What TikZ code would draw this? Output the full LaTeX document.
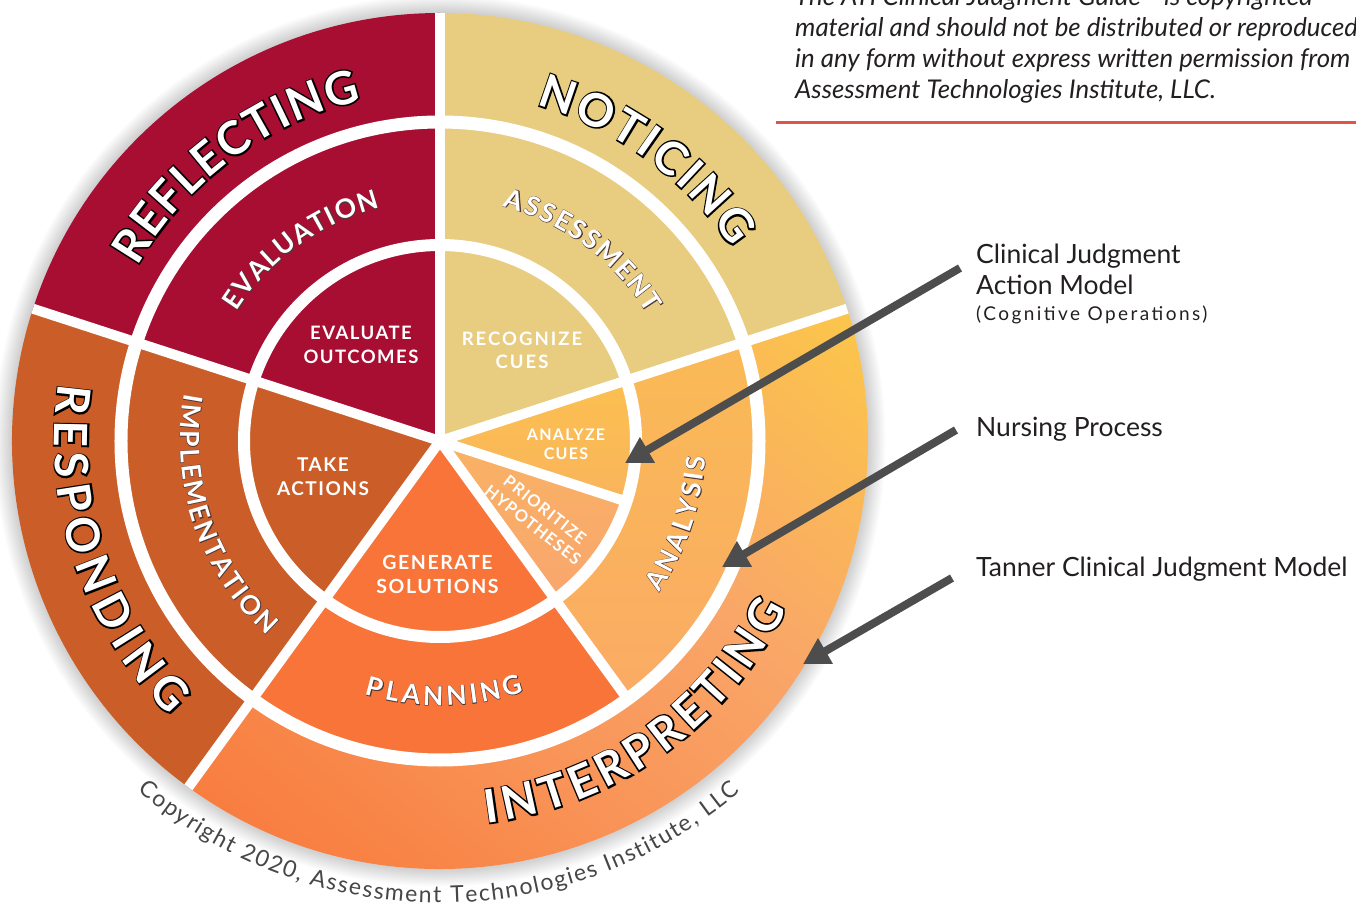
\documentclass[tikz,border=0pt]{standalone}
\usepackage{fontspec}
\setmainfont{Lato}
\usetikzlibrary{decorations.text,arrows.meta}

\definecolor{cCrim}{RGB}{168,13,50}
\definecolor{cRust}{RGB}{202,93,40}
\definecolor{cTan}{RGB}{232,204,128}
\definecolor{cOrange}{RGB}{248,116,56}
\definecolor{cYel}{RGB}{251,196,76}
\definecolor{cSal}{RGB}{249,166,104}
\definecolor{cMid}{RGB}{249,148,88}
\definecolor{cOrL}{RGB}{248,132,70}
\definecolor{cOrB}{RGB}{248,119,57}
\definecolor{cAnTop}{RGB}{251,193,78}
\definecolor{cAnBot}{RGB}{249,164,108}
\definecolor{cAzTop}{RGB}{251,192,80}
\definecolor{cAzBot}{RGB}{250,180,92}
\definecolor{cPrTop}{RGB}{249,178,100}
\definecolor{cPrBot}{RGB}{249,166,110}
\definecolor{cArrow}{RGB}{77,77,77}
\definecolor{cRed}{RGB}{226,84,74}
\definecolor{cText}{RGB}{35,31,32}
\definecolor{cCopy}{RGB}{70,70,70}
\definecolor{cMidLine}{RGB}{80,55,55}

\pgfdeclareverticalshading{interpshade}{100bp}{color(0bp)=(cOrB); color(20bp)=(cOrB); color(30bp)=(cOrL); color(40bp)=(cMid); color(53bp)=(cSal); color(70bp)=(cYel); color(100bp)=(cYel)}
\pgfdeclareverticalshading{analshade}{100bp}{color(0bp)=(cAnBot); color(100bp)=(cAnTop)}

% fonts for the curved labels: white face and the emboldened outline copy behind it
\newcommand\fOuter{\fontsize{46}{46}\selectfont\bfseries}
\newcommand\fOuterK{\fontsize{46}{46}\selectfont\bfseries\addfontfeatures{FakeBold=6.5}}
\newcommand\fMid{\fontsize{26.5}{26.5}\selectfont\bfseries}
\newcommand\fMidK{\fontsize{26.5}{26.5}\selectfont\bfseries\addfontfeatures{FakeBold=3}}
\newcommand\fCopy{\fontsize{23}{23}\selectfont}

% #1 face font, #2 outline font, #3 outline colour, #4 radius, #5 start, #6 end, #7 text
\newcommand\arclabel[7]{%
  \path[postaction={decorate},
    decoration={text along path, text={|#2|#7}, text color=#3, text align={fit to path}}]
    (#5:#4) arc[start angle=#5, end angle=#6, radius=#4];
  \path[postaction={decorate},
    decoration={text along path, text={|#1|#7}, text color=white, text align={fit to path}}]
    (#5:#4) arc[start angle=#5, end angle=#6, radius=#4];
}

\tikzset{
  gap/.style={draw=white, line width=10pt},
  ringgap/.style={draw=white, line width=#1},
  inlbl/.style={text=white, align=center, inner sep=0pt},
  rlbl/.style={text=cText, inner sep=0pt, anchor=base west, font=\fontsize{26.5}{30}\selectfont},
  note/.style={text=cText, inner sep=0pt, anchor=base west, font=\fontsize{25.8}{31}\selectfont\itshape},
  pointer/.style={draw=cArrow, line width=8pt, -{Triangle[length=26pt,width=28pt]}}
}

\begin{document}
\begin{tikzpicture}[x=1pt,y=1pt]
\useasboundingbox (-440,-468) rectangle (916,441);
\clip (-440,-468) rectangle (916,441);

% soft shadow
\foreach \k in {1,...,16}{\fill[black,opacity=0.01] (0,0) circle[radius={428+\k*1.1}];}

% outer ring (Tanner)
\fill[cTan] (0,0) -- (18:428) arc[start angle=18,end angle=90,radius=428] -- cycle;
\fill[cCrim] (0,0) -- (90:428) arc[start angle=90,end angle=162,radius=428] -- cycle;
\fill[cRust] (0,0) -- (162:428) arc[start angle=162,end angle=234,radius=428] -- cycle;
\begin{scope}
  \clip (0,0) -- (234:428) arc[start angle=234,end angle=378,radius=428] -- cycle;
  \shade[shading=interpshade, shading angle=-40] (-430,-430) rectangle (430,430);
\end{scope}

% middle ring (nursing process)
\fill[cOrange] (0,0) -- (234:319) arc[start angle=234,end angle=306,radius=319] -- cycle;
\shade[shading=analshade] (0,0) -- (306:319) arc[start angle=306,end angle=378,radius=319] -- cycle;

% inner ring (cognitive operations)
\shade[top color=cPrTop, bottom color=cPrBot] (0,0) -- (306:196) arc[start angle=306,end angle=342,radius=196] -- cycle;
\shade[top color=cAzTop, bottom color=cAzBot] (0,0) -- (342:196) arc[start angle=342,end angle=378,radius=196] -- cycle;

% white gaps
\draw[ringgap=12pt] (0,0) circle[radius=196];
\draw[ringgap=13pt] (0,0) circle[radius=319];
\foreach \a in {18,90,162,234}{\draw[gap] (0,0) -- (\a:428);}
\draw[gap] (0,0) -- (306:319);
\draw[gap] (0,0) -- (342:196);

% outer labels
\arclabel{\fOuter}{\fOuterK}{black}{349.5}{150}{103}{REFLECTING}
\arclabel{\fOuter}{\fOuterK}{black}{349.5}{74}{33.5}{NOTICING}
\arclabel{\fOuter}{\fOuterK}{black}{385.5}{171.5}{225.5}{RESPONDING}
\arclabel{\fOuter}{\fOuterK}{black}{385}{-83}{-25.8}{INTERPRETING}

% middle labels
\arclabel{\fMid}{\fMidK}{cMidLine}{241}{147.5}{104.5}{EVALUATION}
\arclabel{\fMid}{\fMidK}{cMidLine}{243}{75}{31.5}{ASSESSMENT}
\arclabel{\fMid}{\fMidK}{cMidLine}{260}{169.5}{228.3}{IMPLEMENTATION}
\arclabel{\fMid}{\fMidK}{cMidLine}{264.5}{-106.5}{-71.5}{PLANNING}
\arclabel{\fMid}{\fMidK}{cMidLine}{266}{-34.6}{-3.4}{ANALYSIS}

% inner labels
\node[inlbl, font=\fontsize{18.5}{23.5}\selectfont\bfseries\addfontfeatures{LetterSpace=8}] (evo) at (-79,96) {EVALUATE\\OUTCOMES};
\node[inlbl, font=\fontsize{18.5}{23.5}\selectfont\bfseries\addfontfeatures{LetterSpace=11}] (rec) at (82,90.5) {RECOGNIZE\\CUES};
\node[inlbl, font=\fontsize{16}{19}\selectfont\bfseries\addfontfeatures{LetterSpace=8}] (anc) at (126,-3.5) {ANALYZE\\CUES};
\node[inlbl, rotate=-38, font=\fontsize{16.5}{19.5}\selectfont\bfseries\addfontfeatures{LetterSpace=7}] (prh) at (99,-76.5) {PRIORITIZE\\HYPOTHESES};
\node[inlbl, font=\fontsize{19}{23.5}\selectfont\bfseries\addfontfeatures{LetterSpace=8}] (tka) at (-117,-35.5) {TAKE\\ACTIONS};
\node[inlbl, font=\fontsize{19.5}{24}\selectfont\bfseries\addfontfeatures{LetterSpace=8}] (gen) at (-2.5,-133) {GENERATE\\SOLUTIONS};

% copyright along the rim
\path[postaction={decorate},
  decoration={text along path, text={|\fCopy|Copyright 2020, Assessment Technologies Institute, LLC}, text color=cCopy, text align={fit to path}}]
  (-130.9:462) arc[start angle=-130.9, end angle=-49.5, radius=462];

% notice, top right
\node[note] (n0) at (355,435) {The ATI Clinical Judgment Guide™ is copyrighted};
\node[note] (n1) at (355,404) {material and should not be distributed or reproduced};
\node[note] (n2) at (355,373) {in any form without express written permission from};
\node[note] (n3) at (355,342) {Assessment Technologies Institute, LLC.};
\coordinate (rl0) at (336,318);
\coordinate (rl1) at (916,318);
\draw[cRed, line width=3pt] (rl0) -- (rl1);

% right-hand labels
\node[rlbl] (cj1) at (536,177) {Clinical Judgment};
\node[rlbl] (cj2) at (536,146) {Action Model};
\node[rlbl, font=\fontsize{19}{22}\selectfont\addfontfeatures{LetterSpace=13}] (cj3) at (536,120.5) {(Cognitive Operations)};
\node[rlbl] (np) at (536,4) {Nursing Process};
\node[rlbl] (tc) at (536,-136) {Tanner Clinical Judgment Model};

% arrow targets
\coordinate (tip1) at (185,-22);
\coordinate (tip2) at (282,-126);
\coordinate (tip3) at (363,-223);
\draw[pointer] ([xshift=-16pt,yshift=-4pt]cj1.base west) -- (tip1);
\draw[pointer] ([xshift=-20pt,yshift=7pt]np.base west) -- (tip2);
\draw[pointer] ([xshift=-24pt,yshift=-1pt]tc.base west) -- (tip3);
\end{tikzpicture}
\end{document}
